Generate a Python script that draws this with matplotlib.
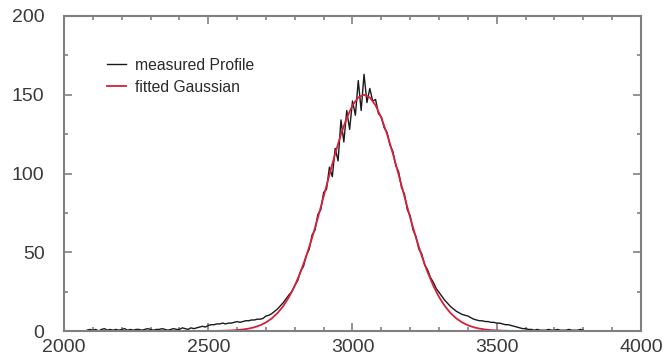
import numpy as np
import matplotlib
matplotlib.use("Agg")
import matplotlib.pyplot as plt
from matplotlib.ticker import MultipleLocator

# Measured beam profile, 10-unit bins from 2080 to 3800
profile_start = 2080
profile_step = 10
measured_counts = [
    0.5, 1, 0.5, 1, 0, 1, 1.5, 0.5, 1, 0.5,            # 2080-2170
    1, 0.5, 1, 1.5, 0.5, 1, 0.5, 1, 1, 0.5,            # 2180-2270
    1, 1.5, 1, 0.5, 1, 1, 1.5, 1, 0.5, 1,              # 2280-2370
    1.5, 1, 1, 2, 1.5, 1, 2, 1.5, 2, 2.5,              # 2380-2470
    3, 2.5, 3.5, 4, 4, 4.5, 4.5, 5, 4.5, 5,            # 2480-2570
    5, 5.5, 6, 5.5, 6, 6.5, 6.5, 7, 7, 7.5,            # 2580-2670
    7.5, 8, 9.5, 10, 11, 12.5, 14, 16, 18, 20.5,       # 2680-2770
    23, 25, 29, 32, 38, 41, 48, 52, 61, 64,            # 2780-2870
    74, 77, 88, 90, 104, 98, 116, 108, 134, 120,       # 2880-2970
    140, 128, 146, 137, 159, 140, 163, 145, 154, 146,  # 2980-3070
    147, 138, 136, 129, 126, 118, 114, 105, 101, 91,   # 3080-3170
    87, 77, 73, 64, 60, 52, 49, 42, 39, 34,            # 3180-3270
    31, 27, 24.5, 22, 19.5, 17.5, 15.5, 14, 12.5, 11.5,  # 3280-3370
    10.5, 10, 9.5, 8.5, 7.5, 7, 6.5, 6.5, 6, 6,        # 3380-3470
    5.5, 5.5, 5, 5, 4.5, 4, 4, 3.5, 3, 2.5,            # 3480-3570
    2, 1.5, 1.5, 1, 1, 0.5, 1, 0.5, 0.5, 0.5,          # 3580-3670
    1, 0.5, 0.5, 1, 0.5, 0.5, 0.5, 1, 0.5, 0.5,        # 3680-3770
    0.5, 1, 0.5,                                       # 3780-3800
]

# Fitted Gaussian curve sampled every 20 units (centre 3040)
fit_positions = list(range(2540, 3541, 20))
fit_values = [
    0.11, 0.2, 0.35, 0.58, 0.95, 1.52, 2.38, 3.64, 5.44, 7.95,
    11.35, 15.83, 21.59, 28.77, 37.48, 47.69, 59.19, 71.93, 85.46, 99.23,
    112.6, 124.9, 135.28, 143.27, 148.29, 150.0,
    148.29, 143.27, 135.28, 124.9, 112.6, 99.23, 85.46, 71.93, 59.19, 47.69,
    37.48, 28.77, 21.59, 15.83, 11.35, 7.95, 5.44, 3.64, 2.38, 1.52,
    0.95, 0.58, 0.35, 0.2, 0.11,
]

x_ticks = [2000, 2500, 3000, 3500, 4000]
y_ticks = [0, 50, 100, 150, 200]

plt.rcParams['font.family'] = ['Liberation Sans', 'DejaVu Sans']

fig = plt.figure(figsize=(6.69, 3.62), dpi=100)
ax = fig.add_axes([64 / 669, 1 - 331 / 362, 577 / 669, 315 / 362])

profile_x = profile_start + profile_step * np.arange(len(measured_counts))
ax.plot(profile_x, measured_counts, color='#1a1a1a', lw=1.0, label='measured Profile')
ax.plot(fit_positions, fit_values, color='#d8203a', lw=1.3, label='fitted Gaussian')

ax.set_xlim(2000, 4000)
ax.set_ylim(0, 200)
ax.set_xticks(x_ticks)
ax.set_yticks(y_ticks)
ax.xaxis.set_minor_locator(MultipleLocator(100))
ax.yaxis.set_minor_locator(MultipleLocator(25))

frame_color = '#808080'
for s in ax.spines.values():
    s.set_color(frame_color)
    s.set_linewidth(1.5)

ax.tick_params(which='both', direction='in', top=True, right=True,
               color=frame_color, width=1.2, labelcolor='#3a3a3a',
               labelsize=14)
ax.tick_params(which='major', length=5.5)
ax.tick_params(which='minor', length=3)
ax.tick_params(axis='x', pad=6)
ax.tick_params(axis='y', pad=14)

leg = ax.legend(loc='upper left', bbox_to_anchor=(0.0745, 0.868),
                frameon=False, fontsize=11.3, handlelength=1.2,
                handletextpad=0.6, labelspacing=0.45, borderpad=0,
                borderaxespad=0)
for t in leg.get_texts():
    t.set_color('#2a2a2a')

fig.savefig('out.png', dpi=100)
